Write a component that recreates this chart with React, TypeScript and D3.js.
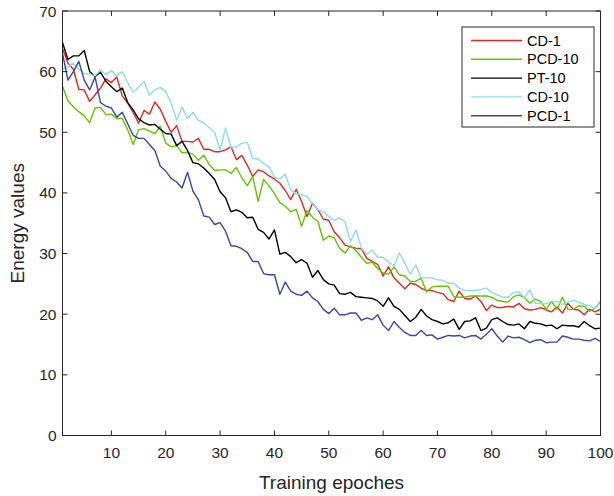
import React from "react";
import * as d3 from "d3";

const epochs: number[] = Array.from({ length: 100 }, (_, i) => i + 1);

const cd1: number[] = [
  63.8, 61.4, 60.4, 57.1, 57, 55.1, 56.2, 57.3, 58.8, 58.2,
  59.1, 56, 54.8, 53.3, 51.5, 53.6, 53, 55, 53.8, 51.8,
  50, 51.1, 48.5, 48.5, 48.4, 49, 47.2, 47.2, 46.8, 46.8,
  47.1, 47.6, 45.5, 46.2, 44.6, 42.7, 43.8, 43.5, 42.8, 42.3,
  41.6, 40.4, 38.9, 40.6, 38.6, 36.1, 38.3, 37.2, 35.7, 35.5,
  33.6, 32.6, 31.4, 31.1, 30.9, 30.8, 29.2, 28.7, 28.2, 26.3,
  27.8, 26, 25.1, 24.2, 25.1, 24.9, 24.3, 23.9, 23.9, 23.6,
  23.4, 22.4, 22.1, 23.8, 22.6, 22.5, 23, 22.1, 20.6, 21.5,
  21.1, 21.1, 21.3, 21.2, 21.8, 20.9, 20.7, 20.8, 21.1, 20.7,
  20.4, 21.2, 20.2, 21.8, 20.8, 20.7, 19.9, 20.8, 20.4, 20.8,
];

const pcd10: number[] = [
  57.6, 55.2, 54.2, 53.4, 52.7, 51.6, 54, 54.1, 52.9, 53,
  52.3, 52.3, 50.4, 48, 50.4, 50.6, 50.2, 49.8, 51, 48.2,
  47.6, 47.8, 46.6, 46.7, 46.4, 45.4, 46.2, 44.7, 43.7, 43.8,
  43.8, 43.2, 44.2, 42.5, 41.2, 42.7, 38.6, 42.2, 41.2, 39.9,
  38.4, 37.8, 36.9, 37.3, 34.5, 37.1, 36, 35.3, 32.2, 32.9,
  32.6, 30.9, 30.1, 31.3, 30.5, 29.4, 28.4, 28.6, 27.5, 26.8,
  26.6, 27.8, 26.5, 26.3, 25.4, 25.4, 25.9, 23.7, 24.5, 24.6,
  24.6, 24.6, 22.9, 22.8, 22.8, 23, 23, 23, 23, 22.8,
  22.3, 22.1, 22, 22.9, 23.2, 22.7, 21.8, 22.5, 22.1, 20.8,
  22.1, 20.8, 22.8, 20.8, 20.8, 21.4, 21.3, 20.5, 21, 22,
];

const pt10: number[] = [
  64.8, 62, 62.6, 62.6, 63.5, 60, 59.2, 59.9, 58.4, 57.5,
  56.7, 57.3, 54.9, 53.7, 52.2, 51.6, 51.2, 51.3, 50.5, 49.8,
  49.7, 47.8, 48.5, 47, 45, 44.8, 44.1, 43.2, 42.2, 40.2,
  39.2, 36.9, 37.2, 36.8, 35.9, 36, 34, 33.5, 32.4, 33.9,
  29.9, 30.2, 29.5, 28.5, 29, 28.4, 26.1, 27.2, 25.7, 25,
  24.8, 23.4, 23.3, 23.6, 22.9, 22.8, 22.7, 22.6, 22.2, 21.3,
  22.7, 21.3, 20.8, 19.8, 18.8, 19.5, 20.8, 19.7, 19.1, 18.8,
  18.4, 18.6, 19.2, 17.5, 18.8, 18.9, 19.4, 17.3, 17.7, 19.1,
  19.4, 18.8, 18.3, 18.2, 18.4, 17.6, 18.8, 18.5, 18.4, 18.1,
  18.2, 17.6, 18.2, 18.1, 18.1, 17.9, 18.8, 18.1, 17.6, 17.7,
];

const cd10: number[] = [
  60.4, 60.8, 61.4, 60.4, 59.7, 59.6, 59.3, 60.3, 59.5, 60.2,
  59.3, 60, 58.2, 56.6, 57.4, 58.4, 56.1, 57, 57.4, 56.7,
  54.8, 52, 54.2, 52.3, 53.3, 52, 51.5, 50.8, 50, 47,
  50.7, 47.5, 47.6, 48.2, 48.3, 45.7, 45.6, 44.9, 44.3, 42.6,
  42.3, 43.1, 40.5, 39.8, 39.7, 39.4, 38.3, 37.2, 36.9, 36.1,
  35.5, 35.9, 35.2, 32, 33.9, 30.9, 29.9, 30.6, 29.4, 29.4,
  28.6, 28, 30.1, 28.4, 26.6, 28.1, 26, 26, 26, 25.7,
  25.6, 25.1, 25.1, 24.3, 23.9, 23.9, 23.9, 24.1, 24.3, 23.6,
  23.2, 22.8, 22.8, 23.6, 23.7, 22.7, 24, 21.8, 21.8, 21.7,
  22.1, 22.1, 21.6, 22, 22.3, 22, 21.6, 21.4, 20.9, 22.3,
];

const pcd1: number[] = [
  63, 58.6, 60, 61.7, 58.6, 57, 59.1, 54.9, 54.3, 54,
  52.5, 53.3, 51.4, 49.5, 49, 49, 48, 47, 44.4, 43.6,
  42.4, 41.8, 40.8, 43.4, 40.3, 38.9, 36.2, 36, 34.8, 35.1,
  33.7, 31.3, 31.2, 30.8, 30.2, 28.7, 28.7, 26.7, 26.5, 26.5,
  23.3, 25.3, 23.8, 23.3, 23.1, 23.8, 22.7, 22.1, 20.8, 20.1,
  21, 19.9, 19.9, 20.2, 20.2, 19, 19.4, 19.1, 19.9, 18.2,
  17.3, 18.8, 17.8, 17, 16.5, 16.5, 17.3, 16.5, 16.6, 15.9,
  16.2, 16.5, 16.4, 16.5, 16.1, 16.4, 16.5, 15.9, 16.7, 17.6,
  16.4, 15.4, 16.4, 16.1, 16.2, 15.8, 15.3, 15.7, 15.8, 15.3,
  15.4, 15.4, 16.4, 16.2, 15.9, 15.9, 15.7, 15.6, 16, 15.5,
];

const seriesNames: string[] = ["CD-1", "PCD-10", "PT-10", "CD-10", "PCD-1"];
const seriesValues: number[][] = [cd1, pcd10, pt10, cd10, pcd1];
const seriesColors: string[] = ["#e3261e", "#66c400", "#000000", "#8cdcec", "#3b44a8"];

const xTicks: number[] = [10, 20, 30, 40, 50, 60, 70, 80, 90, 100];
const yTicks: number[] = [0, 10, 20, 30, 40, 50, 60, 70];

const W = 614;
const H = 496;
const L = 62.5;
const R = 600.5;
const T = 11;
const B = 435.5;

export default function App() {
  const x = d3.scaleLinear().domain([1, 100]).range([L, R]);
  const y = d3.scaleLinear().domain([0, 70]).range([B, T]);
  const line = d3
    .line<number>()
    .x((_, i) => x(epochs[i]))
    .y((d) => y(d));

  const font = "'Liberation Sans', Arial, Helvetica, sans-serif";
  const axisColor = "#262626";
  const tickLen = 5;

  const legX = 462;
  const legY = 27;
  const legW = 132;
  const legH = 100;
  const rowH = 18.8;

  return (
    <svg
      width={W}
      height={H}
      style={{ position: "absolute", left: 0, top: 0, background: "#fff" }}
      fontFamily={font}
    >
      <rect x={0} y={0} width={W} height={H} fill="#fff" />
      {seriesValues.map((vals, k) => (
        <path
          key={seriesNames[k]}
          d={line(vals) || ""}
          fill="none"
          stroke={seriesColors[k]}
          strokeWidth={1.4}
          strokeLinejoin="round"
        />
      ))}
      <rect x={L} y={T} width={R - L} height={B - T} fill="none" stroke={axisColor} strokeWidth={1} />
      {xTicks.map((t) => (
        <g key={"x" + t}>
          <line x1={x(t)} x2={x(t)} y1={B} y2={B - tickLen} stroke={axisColor} />
          <line x1={x(t)} x2={x(t)} y1={T} y2={T + tickLen} stroke={axisColor} />
          <text x={x(t)} y={B + 22} textAnchor="middle" fontSize={15.5} fill="#262626">
            {t}
          </text>
        </g>
      ))}
      {yTicks.map((t) => (
        <g key={"y" + t}>
          <line x1={L} x2={L + tickLen} y1={y(t)} y2={y(t)} stroke={axisColor} />
          <line x1={R} x2={R - tickLen} y1={y(t)} y2={y(t)} stroke={axisColor} />
          <text x={L - 6} y={y(t) + 5.5} textAnchor="end" fontSize={15.5} fill="#262626">
            {t}
          </text>
        </g>
      ))}
      <text x={(L + R) / 2} y={489} textAnchor="middle" fontSize={19} fill="#262626">
        Training epoches
      </text>
      <text
        transform={`translate(24, ${(T + B) / 2}) rotate(-90)`}
        textAnchor="middle"
        fontSize={19}
        fill="#262626"
      >
        Energy values
      </text>
      <rect x={legX} y={legY} width={legW} height={legH} fill="#fff" stroke={axisColor} strokeWidth={1} />
      {seriesNames.map((n, k) => {
        const cy = legY + 13.5 + k * rowH;
        return (
          <g key={"leg" + n}>
            <line x1={legX + 9} x2={legX + 60} y1={cy} y2={cy} stroke={seriesColors[k]} strokeWidth={1.4} />
            <text x={legX + 65} y={cy + 5} fontSize={14.5} fill="#000">
              {n}
            </text>
          </g>
        );
      })}
    </svg>
  );
}
